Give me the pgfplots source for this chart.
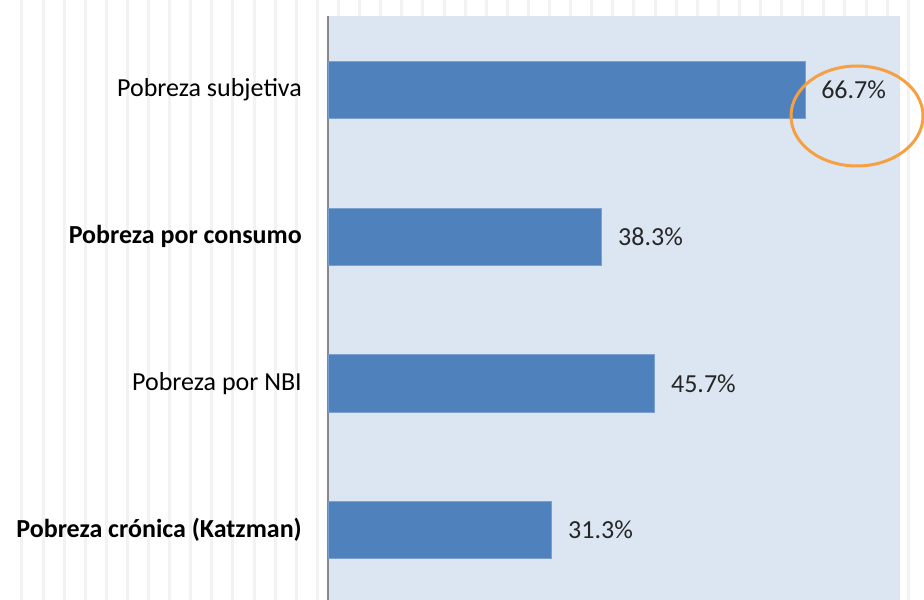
\documentclass[border=0pt]{standalone}
\usepackage{fontspec}
\setmainfont{Carlito}
\usepackage{pgfplots}
\pgfplotsset{compat=1.18}
\definecolor{barblue}{HTML}{4F81BD}
\definecolor{bgblue}{HTML}{DCE6F2}
\definecolor{ringorange}{HTML}{F5A042}
\definecolor{axgray}{HTML}{888888}
\begin{document}
\begin{tikzpicture}
\useasboundingbox (-328bp,0) rectangle (596bp,600bp);
% faint vertical stripes of the background
\foreach \k in {0,...,43} {
  \fill[black!5] ({22bp+21.1bp*\k-328bp-1.5bp},0) rectangle ++(3bp,600bp);
}
\begin{axis}[
  at={(0,0)}, anchor=south west,
  width=572bp, height=584bp, scale only axis,
  xbar, bar width=0.39,
  xmin=0, xmax=80,
  ymin=-0.477, ymax=3.504,
  axis x line=none,
  axis y line*=left,
  y axis line style={axgray, line width=1.5bp, -},
  axis background/.style={fill=bgblue},
  ytick={0,1,2,3},
  yticklabels={\textbf{Pobreza crónica (Katzman)}, Pobreza por NBI, \textbf{Pobreza por consumo}, Pobreza subjetiva},
  major tick length=0pt,
  yticklabel style={font=\fontsize{26bp}{30bp}\selectfont, inner sep=0pt, xshift=-26bp, anchor=east, text=black},
  nodes near coords={\pgfmathprintnumber[fixed,precision=1,fixed zerofill,assume math mode=true]{\pgfplotspointmeta}\%},
  nodes near coords style={anchor=west, inner sep=0pt, xshift=16bp, font=\fontsize{26bp}{30bp}\selectfont, text=black!85},
  clip=false,
]
\addplot[fill=barblue, draw=barblue!75!white, line width=0.75bp] coordinates {
  (31.3,0) (45.7,1) (38.3,2) (66.7,3)
};
\end{axis}
\draw[ringorange, line width=3bp] (529bp,484bp) ellipse [x radius=66bp, y radius=50bp];
\end{tikzpicture}
\end{document}
